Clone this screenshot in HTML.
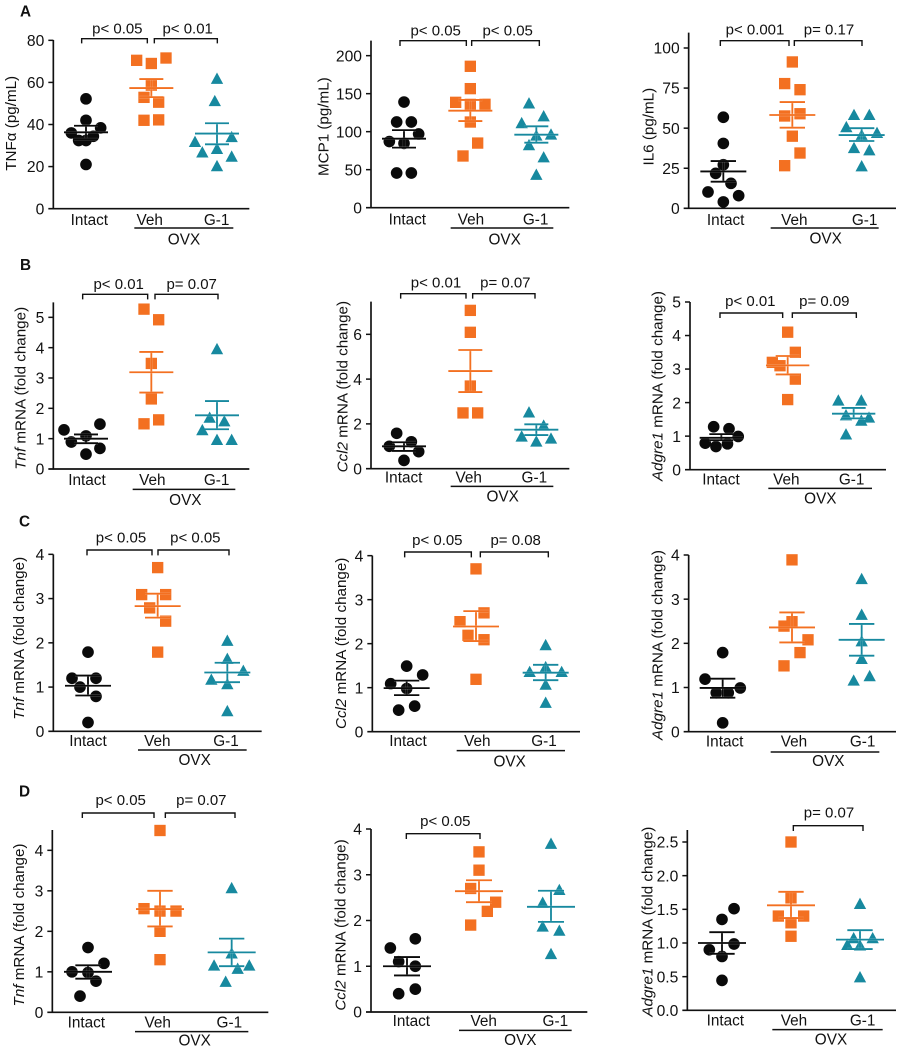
<!DOCTYPE html>
<html lang="en">
<head>
<meta charset="utf-8">
<title>Cytokine and mRNA dot plots</title>
<style>
html,body{margin:0;padding:0;background:#fff}
svg{display:block}
text{font-family:"Liberation Sans",sans-serif;fill:#111}
.tt{font-size:45.6px;text-anchor:middle}
.pv{font-size:45px;text-anchor:middle}
.tk{font-size:47px;text-anchor:end}
.gl{font-size:46px;text-anchor:middle}
.lt{font-size:46px;font-weight:bold}
.br,.ov{fill:none;stroke:#111;stroke-width:4.2}
.ov{stroke-width:4.5}
</style>
</head>
<body>
<svg id="figure" xmlns="http://www.w3.org/2000/svg" width="903" height="1050" viewBox="0 0 903 1050">
<rect width="903" height="1050" fill="#fff"/>

<g id="a1" transform="translate(0,0) scale(.33333)">
<text class="lt" x="60" y="50">A</text>
<text class="tt" transform="translate(48,370) rotate(-90)">TNFα (pg/mL)</text>
<path class="br" d="M245 130V116H442V130"/>
<path class="br" d="M463 130V116H652V130"/>
<text class="pv" x="352" y="100">p&lt; 0.05</text>
<text class="pv" x="563" y="100">p&lt; 0.01</text>
<path class="ov" d="M403 684H700"/>
<text class="gl" x="552" y="733">OVX</text>
</g>

<g id="a2" transform="translate(300,0) scale(.33333)">
<text class="tt" transform="translate(85,380) rotate(-90)">MCP1 (pg/mL)</text>
<path class="br" d="M300 138V122H499V138"/>
<path class="br" d="M515 138V122H718V138"/>
<text class="pv" x="407" y="107">p&lt; 0.05</text>
<text class="pv" x="623" y="107">p&lt; 0.05</text>
<path class="ov" d="M452 684H760"/>
<text class="gl" x="614" y="733">OVX</text>
</g>

<g id="a3" transform="translate(600,0) scale(.33333)">
<text class="tt" transform="translate(160,380) rotate(-90)">IL6 (pg/mL)</text>
<path class="br" d="M361 138V122H567V138"/>
<path class="br" d="M583 138V122H786V138"/>
<text class="pv" x="465" y="103">p&lt; 0.001</text>
<text class="pv" x="687" y="103">p= 0.17</text>
<path class="ov" d="M512 684H836"/>
<text class="gl" x="677" y="730">OVX</text>
</g>

<g id="b1" transform="translate(0,255) scale(.33333)">
<text class="lt" x="60" y="45">B</text>
<text class="tt" transform="translate(76,400) rotate(-90)"><tspan font-style="italic">Tnf</tspan> mRNA (fold change)</text>
<path class="br" d="M248 133V118H443V133"/>
<path class="br" d="M465 133V118H654V133"/>
<text class="pv" x="356" y="102">p&lt; 0.01</text>
<text class="pv" x="575" y="102">p= 0.07</text>
<path class="ov" d="M398 703H706"/>
<text class="gl" x="556" y="750">OVX</text>
</g>

<g id="b2" transform="translate(300,255) scale(.33333)">
<text class="tt" transform="translate(142,395) rotate(-90)"><tspan font-style="italic">Ccl2</tspan> mRNA (fold change)</text>
<path class="br" d="M302 131V116H498V131"/>
<path class="br" d="M518 131V116H705V131"/>
<text class="pv" x="408" y="97">p&lt; 0.01</text>
<text class="pv" x="616" y="97">p= 0.07</text>
<path class="ov" d="M452 694H760"/>
<text class="gl" x="608" y="740">OVX</text>
</g>

<g id="b3" transform="translate(600,255) scale(.33333)">
<text class="tt" transform="translate(187,393) rotate(-90)"><tspan font-style="italic">Adgre1</tspan> mRNA (fold change)</text>
<path class="br" d="M360 189V174H548V189"/>
<path class="br" d="M577 189V174H769V189"/>
<text class="pv" x="451" y="153">p&lt; 0.01</text>
<text class="pv" x="673" y="153">p= 0.09</text>
<path class="ov" d="M505 700H816"/>
<text class="gl" x="661" y="745">OVX</text>
</g>

<g id="c1" transform="translate(0,510) scale(.33333)">
<text class="lt" x="57" y="50">C</text>
<text class="tt" transform="translate(72,385) rotate(-90)"><tspan font-style="italic">Tnf</tspan> mRNA (fold change)</text>
<path class="br" d="M261 136V120H456V136"/>
<path class="br" d="M474 136V120H687V136"/>
<text class="pv" x="363" y="97">p&lt; 0.05</text>
<text class="pv" x="586" y="97">p&lt; 0.05</text>
<path class="ov" d="M414 720H740"/>
<text class="gl" x="584" y="765">OVX</text>
</g>

<g id="c2" transform="translate(300,510) scale(.33333)">
<text class="tt" transform="translate(138,400) rotate(-90)"><tspan font-style="italic">Ccl2</tspan> mRNA (fold change)</text>
<path class="br" d="M314 142V126H514V142"/>
<path class="br" d="M541 142V126H745V142"/>
<text class="pv" x="412" y="105">p&lt; 0.05</text>
<text class="pv" x="647" y="105">p= 0.08</text>
<path class="ov" d="M470 722H795"/>
<text class="gl" x="629" y="770">OVX</text>
</g>

<g id="c3" transform="translate(600,510) scale(.33333)">
<text class="tt" transform="translate(187,405) rotate(-90)"><tspan font-style="italic">Adgre1</tspan> mRNA (fold change)</text>
<path class="ov" d="M512 726H838"/>
<text class="gl" x="685" y="768">OVX</text>
</g>

<g id="d1" transform="translate(0,775) scale(.33333)">
<text class="lt" x="57" y="65">D</text>
<text class="tt" transform="translate(72,450) rotate(-90)"><tspan font-style="italic">Tnf</tspan> mRNA (fold change)</text>
<path class="br" d="M247 129V114H462V129"/>
<path class="br" d="M496 129V114H705V129"/>
<text class="pv" x="362" y="90">p&lt; 0.05</text>
<text class="pv" x="604" y="90">p= 0.07</text>
<path class="ov" d="M405 770H745"/>
<text class="gl" x="584" y="812">OVX</text>
</g>

<g id="d2" transform="translate(300,775) scale(.33333)">
<text class="tt" transform="translate(137,450) rotate(-90)"><tspan font-style="italic">Ccl2</tspan> mRNA (fold change)</text>
<path class="br" d="M319 192V176H540V192"/>
<text class="pv" x="436" y="153">p&lt; 0.05</text>
<path class="ov" d="M477 766H815"/>
<text class="gl" x="661" y="810">OVX</text>
</g>

<g id="d3" transform="translate(600,775) scale(.33333)">
<text class="tt" transform="translate(157,440) rotate(-90)"><tspan font-style="italic">Adgre1</tspan> mRNA (fold change)</text>
<path class="br" d="M580 168V152H789V168"/>
<text class="pv" x="687" y="128">p= 0.07</text>
<path class="ov" d="M517 764H848"/>
<text class="gl" x="693" y="808">OVX</text>
</g>
</svg>

<script>
const categories = ['Intact', 'Veh', 'G-1'];

// Panel A: TNFa
const a1Ticks = [0, 20, 40, 60, 80];
const a1Values = [[52.2, 42, 38.4, 36, 34.4, 32.4, 32.4, 21], [70.5, 69, 71.6, 58.7, 52.9, 50.6, 42, 42.2], [62, 51.4, 34.3, 32, 28.7, 27, 25, 20.5]];
const a1Jitter = [[0, 0, 2, -2, 1, -1, 0, 0], [-2, 0, 2, 0, -1, 1, -1, 1], [0, -0.3, 2, -3, 0, -2, 2, 0]];
const a1Means = [36.3, 57.3, 35.7];
const a1Upper = [39.4, 61.6, 40.6];
const a1Lower = [33, 53, 30.6];

// Panel A: MCP1
const a2Ticks = [0, 50, 100, 150, 200];
const a2Values = [[139, 112.7, 112.7, 97, 87, 84.6, 45.6, 45.6], [186, 156.6, 138.6, 136, 136, 112.7, 85, 68], [138, 121, 112, 97, 95.6, 83, 67, 44]];
const a2Jitter = [[0, -1, 1, 2, -2, 0, -1, 1], [0, 0, -2, 0, 2, 0, 1, -1], [-1, 1, -2, 2, 0, -1, 1, 0]];
const a2Means = [90.8, 127.6, 96];
const a2Upper = [102, 141.7, 107];
const a2Lower = [79, 114, 85.5];

// Panel A: IL6
const a3Ticks = [0, 25, 50, 75, 100];
const a3Values = [[56.8, 40.5, 27.2, 21.8, 15.6, 10.2, 7.9, 4], [91.3, 77.8, 74, 59, 57.6, 45, 34.5, 26.6], [58.6, 58.6, 51, 47.4, 46, 38, 36.6, 26.6]];
const a3Jitter = [[0, 0, 0, -1, 1, -2, 2, 0], [0, -1, 1, 1, -1, 0, 1, -1], [-1, 1, -2, 2, 0, -1, 1, 0]];
const a3Means = [23, 58.2, 45.7];
const a3Upper = [29.5, 66.3, 50];
const a3Lower = [16.6, 50.3, 42];

// Panel B: Tnf
const b1Ticks = [0, 1, 2, 3, 4, 5];
const b1Values = [[1.48, 1.29, 1.09, 0.89, 0.68, 0.49], [5.27, 4.92, 3.48, 2.31, 1.62, 1.49], [3.97, 1.71, 1.59, 1.3, 0.98, 0.98]];
const b1Jitter = [[1.9, -3, 0, -2, 1.9, 0], [-1, 1, 0, 0, 1, -1], [0, -1, 1, -2, 0, 2]];
const b1Means = [1, 3.19, 1.77];
const b1Upper = [1.14, 3.86, 2.24];
const b1Lower = [0.85, 2.52, 1.31];

// Panel B: Ccl2
const b2Ticks = [0, 2, 4, 6];
const b2Values = [[1.58, 1.2, 1, 0.76, 0.37], [7.07, 6.09, 3.69, 2.49, 2.49], [2.54, 1.95, 1.46, 1.37, 1.24]];
const b2Jitter = [[-1, 1, -2, 2, 0], [0, 0, 0, -1, 1], [-1, 1, -2, 2, 0]];
const b2Means = [1, 4.36, 1.74];
const b2Upper = [1.18, 5.3, 1.98];
const b2Lower = [0.79, 3.42, 1.5];

// Panel B: Adgre1
const b3Ticks = [0, 1, 2, 3, 4, 5];
const b3Values = [[1.28, 1.22, 0.99, 0.79, 0.77, 0.69], [4.1, 3.5, 3.2, 3.1, 2.7, 2.09], [2.08, 2.08, 1.64, 1.57, 1.48, 1.07]];
const b3Jitter = [[-1, 1, 2.2, -2.1, 0.8, -0.7], [0, 1, -2, -1, 1, 0], [-2, 1, -1, 2, 1, -1]];
const b3Means = [0.95, 3.11, 1.67];
const b3Upper = [1.06, 3.39, 1.84];
const b3Lower = [0.88, 2.84, 1.53];

// Panel C: Tnf
const c1Ticks = [0, 1, 2, 3, 4];
const c1Values = [[1.79, 1.2, 1.2, 1, 0.79, 0.2], [3.7, 3.09, 3.09, 2.79, 2.49, 1.79], [2.06, 1.65, 1.38, 1.18, 1.08, 0.47]];
const c1Jitter = [[0, -2, 1, -1, 1, 0], [0, -2, 1, -1, 1, 0], [0, 0, 2, -2, 0, 0]];
const c1Means = [1.03, 2.83, 1.33];
const c1Upper = [1.26, 3.11, 1.55];
const c1Lower = [0.81, 2.57, 1.11];

// Panel C: Ccl2
const c2Ticks = [0, 1, 2, 3, 4];
const c2Values = [[1.49, 1.29, 1.09, 0.98, 0.58, 0.49], [3.7, 2.7, 2.5, 2.19, 2.09, 1.19], [1.98, 1.48, 1.37, 1.37, 1.08, 0.67]];
const c2Jitter = [[0, 2, -2, 0, 1, -1], [0, 1, -2, -1, 1, 0], [0, 0, -2, 2, 0, 0]];
const c2Means = [0.99, 2.39, 1.34];
const c2Upper = [1.16, 2.74, 1.52];
const c2Lower = [0.83, 2.06, 1.17];

// Panel C: Adgre1
const c3Ticks = [0, 1, 2, 3, 4];
const c3Values = [[1.79, 1.19, 0.99, 0.88, 0.88, 0.2], [3.89, 2.49, 2.39, 2.08, 1.79, 1.49], [3.47, 2.66, 2.06, 1.66, 1.27, 1.17]];
const c3Jitter = [[0, -2.2, 2.2, -0.8, 0.7, 0], [0, 0, -1, 2, 1, -1], [0, 0, 0, 0, 1, -1]];
const c3Means = [0.99, 2.36, 2.08];
const c3Upper = [1.2, 2.7, 2.44];
const c3Lower = [0.77, 2.02, 1.72];

// Panel D: Tnf
const d1Ticks = [0, 1, 2, 3, 4];
const d1Values = [[1.6, 1.21, 1, 0.98, 0.77, 0.4], [4.49, 2.56, 2.5, 2.5, 2, 1.3], [3.08, 1.47, 1.17, 1.17, 1.09, 0.77]];
const d1Jitter = [[0, 2, -2, 0, 1, -1], [0, -2, 0, 2, 0, 0], [0, 0, -2.2, 2.2, 0.75, -0.75]];
const d1Means = [1, 2.55, 1.48];
const d1Upper = [1.16, 3, 1.82];
const d1Lower = [0.83, 2.12, 1.14];

// Panel D: Ccl2
const d2Ticks = [0, 1, 2, 3, 4];
const d2Values = [[1.6, 1.4, 1.1, 1, 0.5, 0.4], [3.5, 3.1, 2.7, 2.4, 2.2, 1.9], [3.69, 2.68, 2.4, 1.88, 1.79, 1.28]];
const d2Jitter = [[1, -2, -1, 1, 1, -1], [0, 0, -1, 2, 1, -1], [0, 1, -1, -1, 1, 0]];
const d2Means = [1, 2.64, 2.3];
const d2Upper = [1.2, 2.88, 2.65];
const d2Lower = [0.8, 2.4, 1.97];

// Panel D: Adgre1
const d3Ticks = [0, 0.5, 1, 1.5, 2, 2.5];
const d3Values = [[1.51, 1.35, 0.985, 0.9, 0.8, 0.445], [2.5, 1.67, 1.4, 1.4, 1.3, 1.1], [1.59, 1.08, 1.08, 0.98, 0.97, 0.5]];
const d3Jitter = [[1.9, 0, 1.9, -2, 0, 0], [0, 0, -2, 2, 0, 0], [0, -1, 2, -2, 0, 0]];
const d3Means = [1, 1.56, 1.05];
const d3Upper = [1.16, 1.76, 1.19];
const d3Lower = [0.84, 1.37, 0.91];

const colors = ['#0a0a0a', '#f37021', '#17899f'];
const NS = 'http://www.w3.org/2000/svg';

function make(parent, tag, attrs, label) {
  const el = document.createElementNS(NS, tag);
  for (const k in attrs) el.setAttribute(k, attrs[k]);
  if (label !== undefined) el.textContent = label;
  parent.appendChild(el);
  return el;
}

function linearY(g) {
  const k = (g.y0 - g.refPx) / g.refVal;
  return v => g.y0 - v * k;
}
function groupX(g, i, slot) {
  return g.centers[i] + slot * g.step;
}

function drawAxes(root, g, y, ticks) {
  const yAxis = make(root, 'line', {x1: g.x0, x2: g.x0, y1: g.top, y2: g.y0 + 2, stroke: '#111', 'stroke-width': 5});
  
  
  const xAxis = make(root, 'line', {x1: g.x0 - 15, x2: g.right, y1: g.y0, y2: g.y0, stroke: '#111', 'stroke-width': 5});
  
  
  ticks.forEach(t => {
    const py = y(t);
    if (t !== 0) {
      const tick = make(root, 'line', {x1: g.x0 - 15, x2: g.x0, y1: py, y2: py, stroke: '#111', 'stroke-width': 4.5});
      
      
    }
    const tl = make(root, 'text', {class: 'tk', x: g.x0 - 27, y: py + 17}, t.toFixed(g.decimals || 0));
    
    
  });
  categories.forEach((c, i) => {
    const lab = make(root, 'text', {class: 'gl', x: g.labelX[i], y: g.labelBase}, c);
    
    
  });
}

function drawPoint(root, kind, px, py, fill) {
  let el;
  if (kind === 0) {
    el = make(root, 'circle', {cx: px, cy: py, r: 17.5, fill: fill});
    
    
  } else if (kind === 1) {
    el = make(root, 'rect', {x: px - 17, y: py - 17, width: 34, height: 34, fill: fill});
    
    
  } else {
    el = make(root, 'path', {d: 'M' + px + ' ' + (py - 17) + 'l18.5 34h-37z', fill: fill});
    
    
  }
}

function drawBar(root, x1, x2, y1, y2, color, width) {
  const halo = make(root, 'line', {x1: x1, x2: x2, y1: y1, y2: y2, stroke: '#fff', 'stroke-opacity': 0.3, 'stroke-width': width + 2.5});
  
  
  const bar = make(root, 'line', {x1: x1, x2: x2, y1: y1, y2: y2, stroke: color, 'stroke-width': width});
  
  
}

function drawPanel(g) {
  const root = document.getElementById(g.id);
  const y = linearY(g);
  drawAxes(root, g, y, g.ticks);
  g.values.forEach((series, i) => {
    series.forEach((v, j) => {
      drawPoint(root, i, groupX(g, i, g.jitter[i][j]), y(v), colors[i]);
    });
  });
  g.values.forEach((series, i) => {
    const cx = g.centers[i];
    drawBar(root, cx, cx, y(g.upper[i]), y(g.lower[i]), colors[i], 5.5);
    drawBar(root, cx - g.capHalf, cx + g.capHalf, y(g.upper[i]), y(g.upper[i]), colors[i], 5.5);
    drawBar(root, cx - g.capHalf, cx + g.capHalf, y(g.lower[i]), y(g.lower[i]), colors[i], 5.5);
    drawBar(root, cx - g.barHalf, cx + g.barHalf, y(g.means[i]), y(g.means[i]), colors[i], 5.5);
  });
}

const panels = [
  {id: 'a1', x0: 160, y0: 626, refVal: 80, refPx: 121, top: 120, right: 748, centers: [258, 454, 651], labelX: [268, 449, 650], labelBase: 675, step: 22, capHalf: 36, barHalf: 66, ticks: a1Ticks, values: a1Values, jitter: a1Jitter, means: a1Means, upper: a1Upper, lower: a1Lower},
  {id: 'a2', x0: 213, y0: 623, refVal: 200, refPx: 167, top: 122, right: 808, centers: [312, 511, 709], labelX: [322, 513, 707], labelBase: 673, step: 22, capHalf: 36, barHalf: 66, ticks: a2Ticks, values: a2Values, jitter: a2Jitter, means: a2Means, upper: a2Upper, lower: a2Lower},
  {id: 'a3', x0: 266, y0: 625, refVal: 100, refPx: 144, top: 98, right: 888, centers: [370, 577, 785], labelX: [377, 583, 794], labelBase: 675, step: 23, capHalf: 38, barHalf: 69, ticks: a3Ticks, values: a3Values, jitter: a3Jitter, means: a3Means, upper: a3Upper, lower: a3Lower},
  {id: 'b1', x0: 160, y0: 642, refVal: 5, refPx: 187, top: 142, right: 748, centers: [258, 454, 651], labelX: [261, 457, 650], labelBase: 690, step: 22, capHalf: 36, barHalf: 66, ticks: b1Ticks, values: b1Values, jitter: b1Jitter, means: b1Means, upper: b1Upper, lower: b1Lower},
  {id: 'b2', x0: 213, y0: 641, refVal: 6, refPx: 238, top: 140, right: 808, centers: [312, 511, 709], labelX: [311, 506, 703], labelBase: 683, step: 22, capHalf: 36, barHalf: 66, ticks: b2Ticks, values: b2Values, jitter: b2Jitter, means: b2Means, upper: b2Upper, lower: b2Lower},
  {id: 'b3', x0: 270, y0: 644, refVal: 5, refPx: 141, top: 141, right: 858, centers: [364, 563, 761], labelX: [363, 559, 755], labelBase: 688, step: 23, capHalf: 36, barHalf: 65, ticks: b3Ticks, values: b3Values, jitter: b3Jitter, means: b3Means, upper: b3Upper, lower: b3Lower},
  {id: 'c1', x0: 160, y0: 664, refVal: 4, refPx: 133, top: 133, right: 785, centers: [264, 473, 682], labelX: [264, 472, 678], labelBase: 708, step: 24, capHalf: 38, barHalf: 69, ticks: c1Ticks, values: c1Values, jitter: c1Jitter, means: c1Means, upper: c1Upper, lower: c1Lower},
  {id: 'c2', x0: 217, y0: 665, refVal: 4, refPx: 137, top: 137, right: 840, centers: [320, 528, 737], labelX: [324, 532, 732], labelBase: 708, step: 24, capHalf: 38, barHalf: 69, ticks: c2Ticks, values: c2Values, jitter: c2Jitter, means: c2Means, upper: c2Upper, lower: c2Lower},
  {id: 'c3', x0: 266, y0: 665, refVal: 4, refPx: 135, top: 135, right: 888, centers: [368, 576, 785], labelX: [374, 582, 788], labelBase: 710, step: 24, capHalf: 38, barHalf: 69, ticks: c3Ticks, values: c3Values, jitter: c3Jitter, means: c3Means, upper: c3Upper, lower: c3Lower},
  {id: 'd1', x0: 157, y0: 712, refVal: 4, refPx: 226, top: 165, right: 805, centers: [264, 480, 695], labelX: [259, 473, 688], labelBase: 757, step: 24, capHalf: 38, barHalf: 72, ticks: d1Ticks, values: d1Values, jitter: d1Jitter, means: d1Means, upper: d1Upper, lower: d1Lower},
  {id: 'd2', x0: 213, y0: 711, refVal: 4, refPx: 162, top: 162, right: 862, centers: [321, 537, 753], labelX: [334, 551, 766], labelBase: 753, step: 25, capHalf: 39, barHalf: 72, ticks: d2Ticks, values: d2Values, jitter: d2Jitter, means: d2Means, upper: d2Upper, lower: d2Lower},
  {id: 'd3', x0: 262, y0: 706, refVal: 2.5, refPx: 201, top: 165, right: 888, decimals: 1, centers: [366, 573, 780], labelX: [376, 582, 788], labelBase: 752, step: 19, capHalf: 38, barHalf: 72, ticks: d3Ticks, values: d3Values, jitter: d3Jitter, means: d3Means, upper: d3Upper, lower: d3Lower}
];

panels.forEach(drawPanel);
</script>
</body>
</html>
